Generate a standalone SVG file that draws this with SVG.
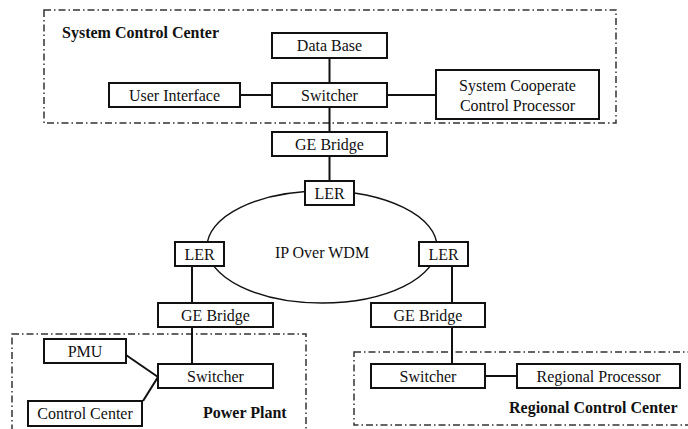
<svg xmlns="http://www.w3.org/2000/svg" width="688" height="429" viewBox="0 0 688 429">
<style>
.box{fill:#fff;stroke:#111;stroke-width:2}
.grp{fill:none;stroke:#333;stroke-width:1.5;stroke-dasharray:7 3 1.5 3}
.ln{stroke:#111;stroke-width:2;fill:none}
text{font-family:"Liberation Serif","Times New Roman",serif;font-size:16px;fill:#111}
.c{text-anchor:middle}
.b{font-weight:bold}
</style>
<rect width="688" height="429" fill="#fff"/>
<g id="groups">
<rect class="grp" x="44" y="10" width="572" height="113"/>
<rect class="grp" x="12" y="334" width="294" height="110"/>
<rect class="grp" x="354" y="352" width="350" height="73"/>
<text class="b" x="62" y="38">System Control Center</text>
<text class="b" x="203" y="418">Power Plant</text>
<text class="b" x="509" y="413">Regional Control Center</text>
</g>
<g id="connectors">
<line class="ln" x1="329.5" y1="58" x2="329.5" y2="83"/>
<line class="ln" x1="240" y1="95" x2="272" y2="95"/>
<line class="ln" x1="387" y1="95" x2="436" y2="95"/>
<line class="ln" x1="329.5" y1="107" x2="329.5" y2="132"/>
<line class="ln" x1="329.5" y1="156" x2="329.5" y2="181"/>
<line class="ln" x1="192" y1="266" x2="192" y2="303"/>
<line class="ln" x1="452" y1="266" x2="452" y2="303"/>
<line class="ln" x1="192" y1="327" x2="192" y2="364"/>
<line class="ln" x1="452" y1="327" x2="452" y2="364"/>
<line class="ln" x1="126" y1="355" x2="158" y2="377" stroke-width="1.5"/>
<line class="ln" x1="143" y1="401" x2="158" y2="377" stroke-width="1.5"/>
<line class="ln" x1="485" y1="376" x2="517" y2="376"/>
</g>
<g id="ring">
<ellipse cx="322" cy="247" rx="115" ry="56" fill="none" stroke="#111" stroke-width="1.5"/>
<text class="c" x="322" y="258">IP Over WDM</text>
</g>
<g id="database"><rect class="box" x="272" y="33" width="115" height="25"/><text class="c" x="329.5" y="51">Data Base</text></g>
<g id="switcher-top"><rect class="box" x="272" y="83" width="115" height="24"/><text class="c" x="329.5" y="101">Switcher</text></g>
<g id="user-interface"><rect class="box" x="109" y="83" width="131" height="24"/><text class="c" x="174.5" y="101">User Interface</text></g>
<g id="scc-processor"><rect class="box" x="436" y="70" width="163" height="49"/><text class="c" x="517.5" y="91">System Cooperate</text><text class="c" x="517.5" y="111">Control Processor</text></g>
<g id="ge-bridge-top"><rect class="box" x="272" y="132" width="115" height="24"/><text class="c" x="329.5" y="150">GE Bridge</text></g>
<g id="ler-top"><rect class="box" x="305" y="181" width="49" height="24"/><text class="c" x="329.5" y="199">LER</text></g>
<g id="ler-left"><rect class="box" x="175" y="242" width="49" height="24"/><text class="c" x="199.5" y="260">LER</text></g>
<g id="ler-right"><rect class="box" x="419" y="242" width="49" height="24"/><text class="c" x="443.5" y="260">LER</text></g>
<g id="ge-bridge-left"><rect class="box" x="158" y="303" width="115" height="24"/><text class="c" x="215.5" y="321">GE Bridge</text></g>
<g id="ge-bridge-right"><rect class="box" x="371" y="303" width="114" height="24"/><text class="c" x="428" y="321">GE Bridge</text></g>
<g id="pmu"><rect class="box" x="44" y="339" width="82" height="24"/><text class="c" x="85" y="357">PMU</text></g>
<g id="switcher-plant"><rect class="box" x="158" y="364" width="115" height="24"/><text class="c" x="215.5" y="382">Switcher</text></g>
<g id="control-center"><rect class="box" x="28" y="401" width="114" height="25"/><text class="c" x="85" y="419">Control Center</text></g>
<g id="switcher-regional"><rect class="box" x="371" y="364" width="114" height="24"/><text class="c" x="428" y="382">Switcher</text></g>
<g id="regional-processor"><rect class="box" x="517" y="364" width="163" height="24"/><text class="c" x="598.5" y="382">Regional Processor</text></g>
</svg>
